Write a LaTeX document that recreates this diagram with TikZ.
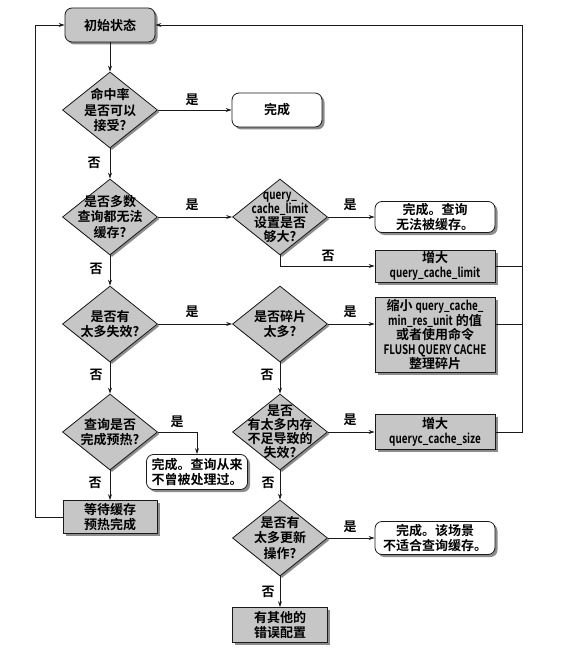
\documentclass[tikz,border=0pt]{standalone}
\usepackage{fontspec}
\setmainfont{Noto Sans CJK SC}[BoldFont={Noto Sans CJK SC Bold}]
\usetikzlibrary{shapes.geometric, arrows.meta, shadows}
\definecolor{fcgray}{HTML}{C6C6C6}
\definecolor{fcline}{HTML}{1A1A1A}
\definecolor{fcshadow}{HTML}{8C8C8C}
\newcommand{\fcfont}{\fontsize{13}{15.5}\selectfont\bfseries}
\newcommand{\cnd}[1]{\scalebox{0.76}[1]{#1}}

\begin{document}
\begin{tikzpicture}[x=1pt, y=-1pt,
    term/.style={rectangle, rounded corners=7pt, draw=fcline, line width=0.8pt, fill=#1, minimum width=120pt, minimum height=33pt, inner sep=1pt, align=center, font=\fcfont, drop shadow={shadow xshift=2.5pt, shadow yshift=-2.5pt, fill=fcshadow, opacity=1}},
    term/.default=white,
    act/.style={rectangle, draw=fcline, line width=0.8pt, fill=fcgray, minimum width=120pt, minimum height=33pt, inner sep=1pt, align=center, font=\fcfont, drop shadow={shadow xshift=2.5pt, shadow yshift=-2.5pt, fill=fcshadow, opacity=1}},
    dec/.style={diamond, draw=fcline, line width=0.8pt, fill=fcgray, minimum width=95pt, minimum height=76pt, inner sep=0pt, drop shadow={shadow xshift=2pt, shadow yshift=-2pt, fill=fcshadow, opacity=1}},
    dtext/.style={align=center, inner sep=0pt, font=\fcfont},
    lbl/.style={inner sep=0pt, font=\fcfont},
    arrow/.style={-{Stealth[length=6pt, width=4pt]}, line width=0.8pt, color=fcline},
    link/.style={line width=0.8pt, color=fcline}
]
\useasboundingbox (0,0) rectangle (575,658);

% Start
\node[term=fcgray, minimum width=90pt, minimum height=34pt] (start) at (110,25) {初始状态};

% Decisions
\node[dec] (d1) at (110,110) {};
\node[dtext] (d1t) at (d1) {命中率\\是否可以\\接受?};
\node[dec] (d2) at (110,217) {};
\node[dtext] (d2t) at (d2) {是否多数\\查询都无法\\缓存?};
\node[dec] (d3) at (280,217) {};
\node[dtext, font=\fontsize{13}{14}\selectfont\bfseries] (d3t) at (d3) {\cnd{query\_}\\\cnd{cache\_limit}\\设置是否\\够大?};
\node[dec] (d4) at (110,324) {};
\node[dtext] (d4t) at (d4) {是否有\\太多失效?};
\node[dec] (d5) at (280,324) {};
\node[dtext] (d5t) at (d5) {是否碎片\\太多?};
\node[dec] (d6) at (110,432) {};
\node[dtext] (d6t) at (d6) {查询是否\\完成预热?};
\node[dec] (d7) at (280,432) {};
\node[dtext, font=\fontsize{13}{14}\selectfont\bfseries] (d7t) at (d7) {是否\\有太多内存\\不足导致的\\失效?};
\node[dec] (d8) at (280,538) {};
\node[dtext] (d8t) at (d8) {是否有\\太多更新\\操作?};

% Results
\node[term, minimum width=90pt, minimum height=34pt] (done1) at (277,110) {完成};
\node[term, minimum height=31pt] (done2) at (435,217) {完成。查询\\无法被缓存。};
\node[act, minimum height=32pt] (inc1) at (435,266) {增大\\\cnd{query\_cache\_limit}};
\node[act, minimum height=75pt, font=\fontsize{13}{14.5}\selectfont\bfseries] (shrink) at (435,335) {缩小 \cnd{query\_cache\_}\\\cnd{min\_res\_unit} 的值\\或者使用命令\\\cnd{FLUSH QUERY CACHE}\\整理碎片};
\node[act, minimum height=35pt] (inc2) at (435,432) {增大\\\cnd{queryc\_cache\_size}};
\node[term, minimum width=101pt, minimum height=35pt] (done3) at (197,472) {完成。查询从来\\不曾被处理过。};
\node[act, minimum width=94pt, minimum height=33pt] (wait) at (110,517) {等待缓存\\预热完成};
\node[term, minimum height=33pt] (done4) at (435,538) {完成。该场景\\不适合查询缓存。};
\node[act, minimum width=95pt, minimum height=35pt] (other) at (280,625) {有其他的\\错误配置};

% Turning points
\coordinate (lp) at (35,517);
\coordinate (rt) at (522,25);

% Main flow
\draw[arrow] (start) -- (d1);
\draw[arrow] (d1) -- (done1);
\draw[arrow] (d1) -- (d2);
\draw[arrow] (d2) -- (d3);
\draw[arrow] (d3) -- (done2);
\draw[arrow] (d3.south) |- (inc1.west);
\draw[arrow] (d2) -- (d4);
\draw[arrow] (d4) -- (d5);
\draw[arrow] (d5.east) -- (d5.east -| shrink.west);
\draw[arrow] (d5) -- (d7);
\draw[arrow] (d4) -- (d6);
\draw[arrow] (d6.east) -| (done3.north);
\draw[arrow] (d6) -- (wait);
\draw[arrow] (d7) -- (inc2);
\draw[arrow] (d7) -- (d8);
\draw[arrow] (d8) -- (done4);
\draw[arrow] (d8) -- (other);

% Loops back to start
\draw[arrow] (wait.west) -- (lp) |- (start.west);
\draw[arrow] (inc2.east) -| (rt) -- (start.east);
\draw[link] (inc1.east) -- (inc1.east -| rt);
\draw[link] (shrink.east |- d5) -- (rt |- d5);

% Yes / no labels
\node[lbl] (y1) at (192,100) {是};
\node[lbl] (y2) at (192,205) {是};
\node[lbl] (y3) at (350,205) {是};
\node[lbl] (y4) at (192,312) {是};
\node[lbl] (y5) at (350,312) {是};
\node[lbl] (y6) at (177,422) {是};
\node[lbl] (y7) at (350,420) {是};
\node[lbl] (y8) at (350,527) {是};
\node[lbl] (n1) at (94,163) {否};
\node[lbl] (n2) at (96,269) {否};
\node[lbl] (n3) at (328,256) {否};
\node[lbl] (n4) at (96,375) {否};
\node[lbl] (n5) at (267,375) {否};
\node[lbl] (n6) at (95,483) {否};
\node[lbl] (n7) at (268,483) {否};
\node[lbl] (n8) at (268,592) {否};

\end{tikzpicture}
\end{document}
